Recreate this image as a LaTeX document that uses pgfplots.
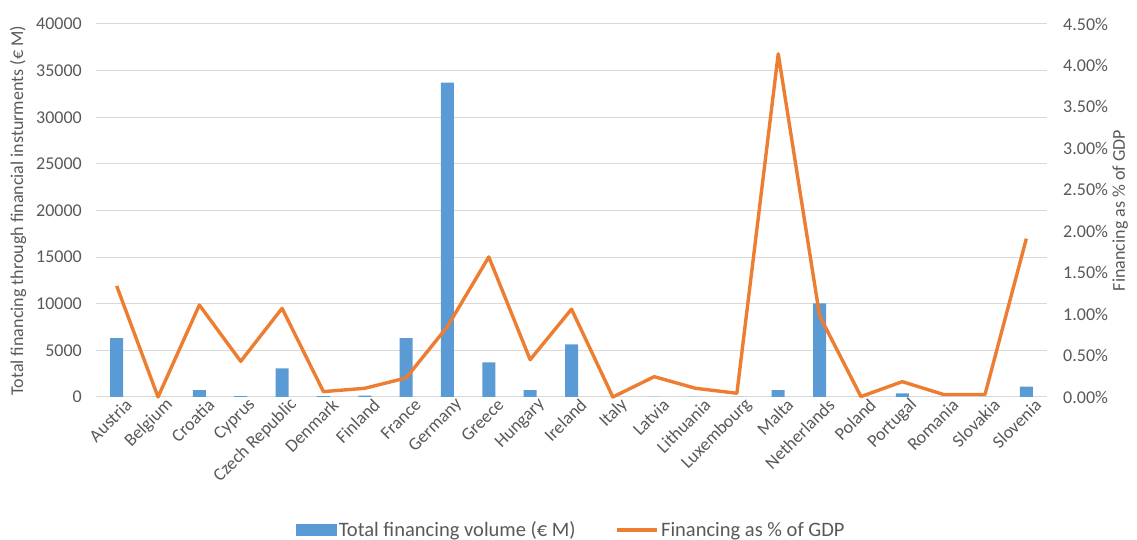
\documentclass[border=0pt]{standalone}
\usepackage{fontspec}
\setmainfont{Carlito}
\usepackage{pgfplots}
\usepackage{pgfplotstable}
\pgfplotsset{compat=1.18}

\definecolor{barblue}{HTML}{5B9BD5}
\definecolor{lineorange}{HTML}{ED7D31}
\definecolor{gridgray}{HTML}{D9D9D9}
\definecolor{textgray}{HTML}{595959}

% idx: country position, volume: EUR million, gdp: percent of GDP
\pgfplotstableread{
idx volume gdp
0   6300   1.34
1   0      0.00
2   750    1.11
3   100    0.43
4   3080   1.07
5   100    0.065
6   150    0.105
7   6300   0.23
8   33700  0.85
9   3720   1.69
10  750    0.45
11  5650   1.06
12  0      0.00
13  0      0.245
14  0      0.105
15  0      0.045
16  750    4.14
17  10050  0.98
18  0      0.005
19  400    0.185
20  0      0.03
21  0      0.03
22  1100   1.91
}\data

\pgfplotsset{
  common/.style={
    at={(96pt,143pt)}, anchor=south west,
    width=951pt, height=373pt, scale only axis,
    xmin=-0.5, xmax=22.5,
    major tick length=0pt,
    tick label style={font=\fontsize{18}{21}\selectfont, text=textgray},
    label style={font=\fontsize{18}{21}\selectfont, text=textgray},
    /pgf/number format/assume math mode=true,
  },
}

\begin{document}
\begin{tikzpicture}
\path[use as bounding box] (0pt,0pt) rectangle (1137pt,540pt);

\begin{axis}[
  common,
  axis x line*=bottom, axis y line*=left,
  x axis line style={draw=gridgray, line width=1pt},
  y axis line style={draw=none},
  ymin=0, ymax=40000,
  ytick={0,5000,10000,15000,20000,25000,30000,35000,40000},
  scaled y ticks=false,
  yticklabel style={/pgf/number format/1000 sep={}, /pgf/number format/fixed, inner sep=0pt, xshift=-14pt},
  ymajorgrids, grid style={gridgray, line width=1pt},
  xtick={0,...,22},
  xticklabels={Austria,Belgium,Croatia,Cyprus,Czech Republic,Denmark,Finland,France,Germany,Greece,Hungary,Ireland,Italy,Latvia,Lithuania,Luxembourg,Malta,Netherlands,Poland,Portugal,Romania,Slovakia,Slovenia},
  xticklabel style={rotate=45, anchor=east, inner sep=0pt, xshift=5pt, yshift=-12pt},
  ylabel={Total financing through financial insturments (€ M)},
  ylabel style={at={(axis description cs:-0.082,0.5)}, anchor=center},
]
\addplot[ybar, bar width=13pt, fill=barblue, draw=none] table[x=idx, y=volume]{\data};
\end{axis}

\begin{axis}[
  common,
  axis x line=none, axis y line*=right,
  y axis line style={draw=none},
  xtick=\empty,
  ymin=0, ymax=4.5,
  ytick={0,0.5,1,1.5,2,2.5,3,3.5,4,4.5},
  yticklabels={0.00\%,0.50\%,1.00\%,1.50\%,2.00\%,2.50\%,3.00\%,3.50\%,4.00\%,4.50\%},
  yticklabel style={inner sep=0pt, xshift=16pt, anchor=west},
  ylabel={Financing as \% of GDP},
  ylabel style={at={(axis description cs:1.077,0.5)}, anchor=center},
  clip=false,
  legend columns=2,
  legend style={at={(axis description cs:0.5,-0.357)}, anchor=center, draw=none,
    font=\fontsize{20.5}{23}\selectfont, text=textgray,
    /tikz/every even column/.append style={column sep=38pt}},
]
\addlegendimage{legend image code/.code={\fill[barblue] (0pt,-5.5pt) rectangle (40pt,5.5pt);}}
\addlegendentry{Total financing volume (€ M)}
\addplot[lineorange, line width=3.4pt, line join=round,
  legend image code/.code={\draw[lineorange, line width=3.4pt] (0pt,0pt) -- (40pt,0pt);}]
  table[x=idx, y=gdp]{\data};
\addlegendentry{Financing as \% of GDP}
\end{axis}
\end{tikzpicture}
\end{document}
